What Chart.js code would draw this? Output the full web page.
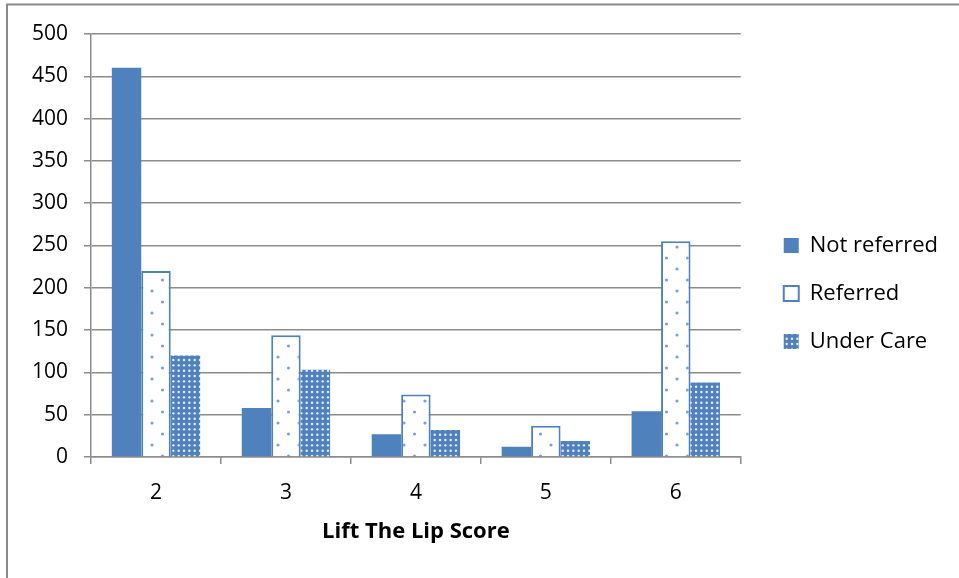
<!DOCTYPE html>
<html>
<head>
<meta charset="utf-8">
<script src="https://cdn.jsdelivr.net/npm/chart.js@4"></script>
<style>
  html, body { margin:0; padding:0; background:#fff; }
  #wrap { position:relative; width:959px; height:578px; }
</style>
</head>
<body>
<div id="wrap"><canvas id="chart" width="959" height="578"></canvas></div>
<script>
const scores = ['2', '3', '4', '5', '6'];
const notReferred = [460, 58, 27, 12, 54];
const referred = [220, 144, 74, 37, 255];
const underCare = [120, 103, 32, 19, 88];
const yTicks = [0, 50, 100, 150, 200, 250, 300, 350, 400, 450, 500];

const BLUE = '#4f81bd';
const GRID = '#8c8c8c';
const FONT = "'Open Sans', Lato, sans-serif";

// white with sparse blue dots
function sparseDots(){
  const c = document.createElement('canvas');
  c.width = 21; c.height = 22;
  const g = c.getContext('2d');
  g.fillStyle = '#fff'; g.fillRect(0,0,21,22);
  g.fillStyle = '#7aa2d6';
  g.beginPath(); g.arc(5, 5, 1.6, 0, Math.PI*2); g.fill();
  g.beginPath(); g.arc(15.5, 16, 1.6, 0, Math.PI*2); g.fill();
  return g.createPattern(c, 'repeat');
}
// blue with dense white dots
function denseDots(){
  const c = document.createElement('canvas');
  c.width = 16; c.height = 16;
  const g = c.getContext('2d');
  g.fillStyle = BLUE; g.fillRect(0,0,16,16);
  g.fillStyle = 'rgba(255,255,255,0.85)';
  for(let i=0;i<3;i++) for(let j=0;j<3;j++){
    g.beginPath(); g.arc(2.7+i*5.33, 2.7+j*5.33, 1.2, 0, Math.PI*2); g.fill();
  }
  return g.createPattern(c, 'repeat');
}

const frame = {
  id:'frame',
  beforeDraw(chart){
    const ctx = chart.ctx;
    ctx.save();
    ctx.strokeStyle = '#8a8a8a';
    ctx.lineWidth = 2;
    ctx.beginPath();
    ctx.moveTo(7, 600); ctx.lineTo(7, 4.5); ctx.lineTo(980, 4.5);
    ctx.stroke();
    ctx.restore();
  }
};

new Chart(document.getElementById('chart'), {
  type:'bar',
  data:{
    labels: scores,
    datasets:[
      { label:'Not referred', data: notReferred, backgroundColor: BLUE, borderWidth:0 },
      { label:'Referred', data: referred, backgroundColor: sparseDots(), borderColor: BLUE, borderWidth:2 },
      { label:'Under Care', data: underCare, backgroundColor: denseDots(), borderWidth:0 }
    ]
  },
  options:{
    responsive:false,
    animation:false,
    layout:{ padding:{ top:34, left:16, right:11, bottom:25 } },
    datasets:{ bar:{ categoryPercentage:0.68, barPercentage:1.0 } },
    plugins:{
      legend:{
        position:'right',
        align:'center',
        maxWidth:300,
        labels:{
          font:{ family:FONT, size:22 },
          color:'#000',
          boxWidth:15, boxHeight:15,
          padding:26,
          useBorderRadius:false
        }
      },
      tooltip:{ enabled:false }
    },
    scales:{
      x:{
        grid:{ drawOnChartArea:false, drawTicks:true, tickLength:7, color:GRID, lineWidth:1.5, offset:true },
        border:{ color:GRID, width:1.5 },
        ticks:{ font:{ family:FONT, size:21 }, color:'#000', padding:16 },
        title:{ display:true, text:'Lift The Lip Score', font:{ family:FONT, size:22, weight:'bold' }, color:'#000', padding:{ top:9, bottom:8 } },
        afterFit(axis){ axis.height = 96; }
      },
      y:{
        min:0, max:500,
        afterBuildTicks(axis){ axis.ticks = yTicks.map(v=>({ value:v })); },
        grid:{ color:GRID, lineWidth:1.5, tickLength:7 },
        border:{ color:GRID, width:1.5 },
        ticks:{ font:{ family:FONT, size:21 }, color:'#000', padding:16 }
      },
      gap:{
        position:'right',
        grid:{ display:false },
        border:{ display:false },
        ticks:{ display:false },
        afterFit(axis){ axis.width = 17; }
      }
    }
  },
  plugins:[frame]
});
</script>
</body>
</html>
